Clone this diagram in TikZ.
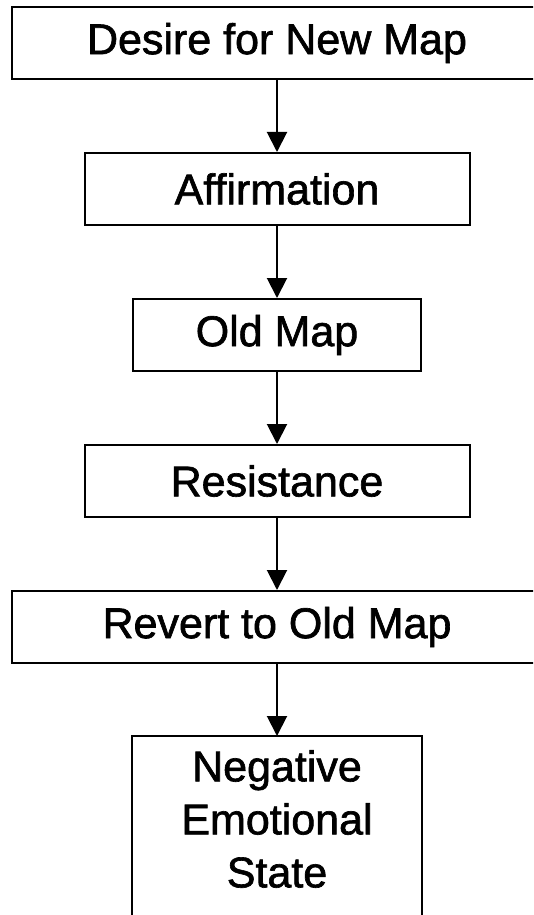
\documentclass[tikz,border=0pt]{standalone}
\usepackage{fontspec}
\usetikzlibrary{arrows.meta,positioning}
\newfontfamily\boxfont[FakeBold=1.5]{Liberation Sans}
\def\darr{\draw[line width=2pt,-{Triangle[length=20pt,width=20pt]}]}

\begin{document}
\begin{tikzpicture}[x=1pt,y=1pt,node distance=72pt,
    box/.style={draw,line width=2pt,minimum height=72pt,inner sep=0pt,
      align=center,font=\boxfont\fontsize{43}{53}\selectfont},
    wide/.style={box,minimum width=530pt},
    mid/.style={box,minimum width=385pt},
    narrow/.style={box,minimum width=288pt}]
  \clip (0,0) rectangle (533,-915);
  \node[wide] (desire) at (277,-43) {Desire for New Map};
  \node[mid,below=of desire] (affirm) {Affirmation};
  \node[narrow,below=of affirm] (oldmap) {Old Map};
  \node[mid,below=of oldmap] (resist) {Resistance};
  \node[wide,below=of resist] (revert) {Revert to Old Map};
  \node[narrow,draw=none,minimum height=164pt,below=of revert] (negstate)
    {Negative\\Emotional\\State};
  % open at the bottom, the page cuts it
  \draw[line width=2pt] (negstate.north west) ++(0,-220) -- (negstate.north west)
    -- (negstate.north east) -- ++(0,-220);
  \darr (desire) -- (affirm);
  \darr (affirm) -- (oldmap);
  \darr (oldmap) -- (resist);
  \darr (resist) -- (revert);
  \darr (revert) -- (negstate);
\end{tikzpicture}
\end{document}
